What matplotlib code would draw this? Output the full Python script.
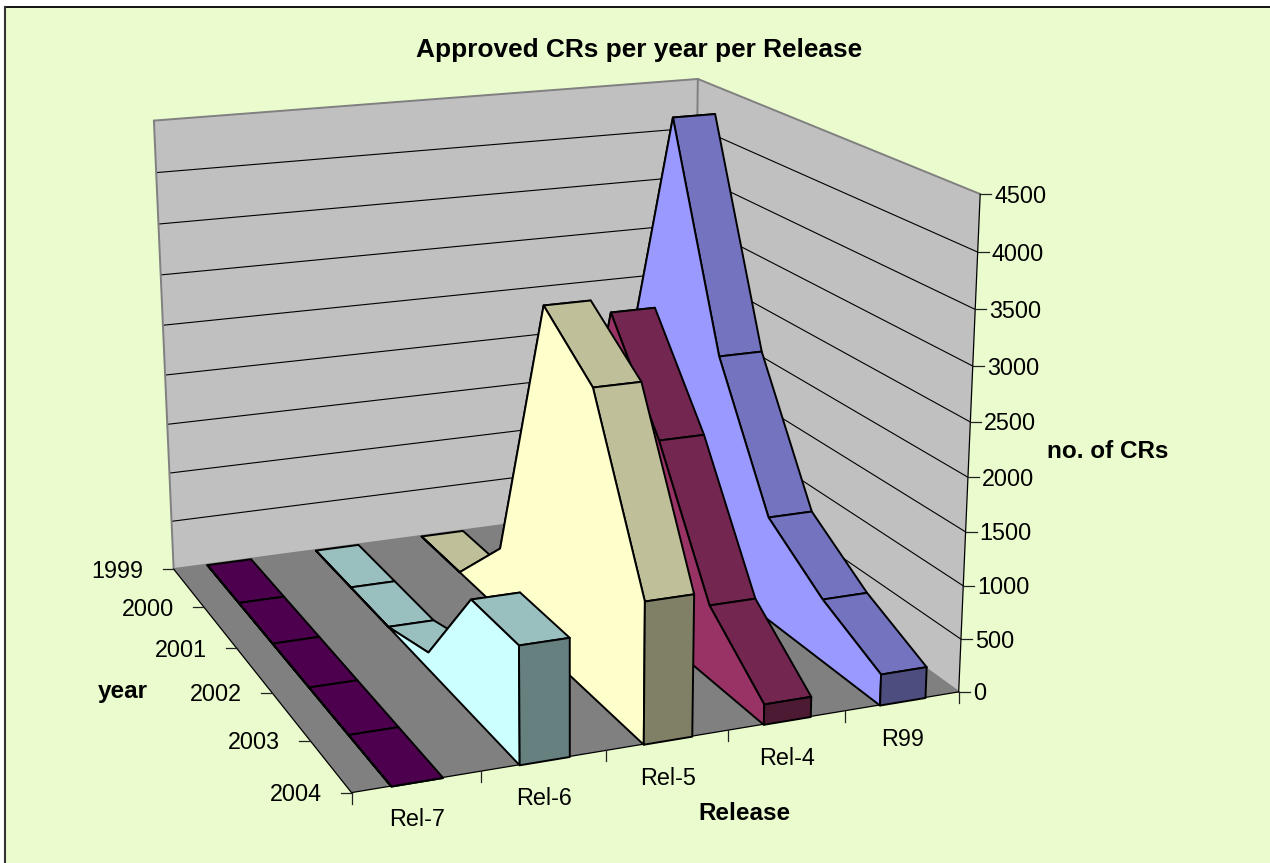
import numpy as np
import matplotlib
matplotlib.use("Agg")
import matplotlib.pyplot as plt
from matplotlib.lines import Line2D
from matplotlib.patches import Rectangle
from mpl_toolkits.mplot3d import proj3d
from mpl_toolkits.mplot3d.art3d import Poly3DCollection, Line3DCollection

plt.rcParams['font.family'] = ['Liberation Sans', 'DejaVu Sans']

# ---- data ----
releases = ['Rel-7', 'Rel-6', 'Rel-5', 'Rel-4', 'R99']
years = ['1999', '2000', '2001', '2002', '2003', '2004']
rel7 = [0, 0, 0, 0, 0, 0]
rel6 = [0, 0, 0, 164, 1074, 1071]
rel5 = [0, 0, 627, 3284, 2842, 1295]
rel4 = [0, 50, 2821, 1898, 695, 189]
r99 = [1475, 4378, 2271, 1008, 590, 292]
z_ticks = [0, 500, 1000, 1500, 2000, 2500, 3000, 3500, 4000, 4500]
title = 'Approved CRs per year per Release'

# ---- styles ----
BG = '#EAFBCE'
WALL = '#C0C0C0'
FLOOR = '#808080'
side_colors = ['#660066', '#CCFFFF', '#FFFFCC', '#993366', '#9999FF']
top_colors = ['#4D004D', '#99BFBF', '#BFBF99', '#732650', '#7373BF']
front_colors = ['#330033', '#668080', '#808066', '#4D1A33', '#4D4D80']
RIBBON = (0.3, 0.7)
W_PX, H_PX = 1270, 863

# perspective camera of the chart (x: release slot, y: year index, z: thousands of CRs)
CAMERA = np.array([[113.5117842, 23.1530608, -5.9969364, 173.6333044],
                   [19.0014877, -47.1983783, 91.8813688, 293.9433327],
                   [0.0141194, -0.0353416, -0.0104767, 1.0]])
M = np.vstack([CAMERA[0], CAMERA[1], [0, 0, 1, 0], CAMERA[2]]) @ np.diag([1, 1, 1e-3, 1])

fig = plt.figure(figsize=(W_PX / 100, H_PX / 100), dpi=100, facecolor='white')
fig.patches.append(Rectangle((5 / W_PX, 0), 1, 1 - 8 / H_PX, transform=fig.transFigure,
                             facecolor=BG, edgecolor='none', zorder=-5))
fig.add_artist(Line2D([5 / W_PX, 1], [1 - 7.5 / H_PX] * 2, color='black', lw=1.3))
fig.add_artist(Line2D([4.8 / W_PX] * 2, [0, 1 - 7 / H_PX], color='#333333', lw=1.5))

ax = fig.add_axes([0, 0, 1, 1], projection='3d')
ax.set_autoscale_on(False)
ax.computed_zorder = False
ax.set_axis_off()
ax.patch.set_visible(False)
ax.apply_aspect = lambda position=None: None
ax.get_proj = lambda: M

n = 5
zmax = z_ticks[-1]
zo = [10]


def poly(verts, fc, ec='none', lw=0.0):
    c = Poly3DCollection([verts], facecolors=fc, edgecolors=ec, linewidths=lw, joinstyle='round')
    zo[0] += 1
    c.set_zorder(zo[0])
    ax.add_collection3d(c)


def lines3d(segs, color, lw):
    c = Line3DCollection(segs, colors=color, linewidths=lw, capstyle='round')
    zo[0] += 1
    c.set_zorder(zo[0])
    ax.add_collection3d(c)


# walls and floor
poly([(0, 0, 0), (n, 0, 0), (n, 0, zmax), (0, 0, zmax)], WALL)
poly([(n, 0, 0), (n, n, 0), (n, n, zmax), (n, 0, zmax)], WALL)
poly([(0, 0, 0), (n, 0, 0), (n, n, 0), (0, n, 0)], FLOOR)
lines3d([[(0, 0, z), (n, 0, z)] for z in z_ticks[1:-1]] + [[(n, 0, z), (n, n, z)] for z in z_ticks[1:-1]],
        'black', 0.8)
lines3d([[(0, 0, zmax), (n, 0, zmax)], [(n, 0, zmax), (n, n, zmax)],
         [(0, 0, 0), (0, 0, zmax)], [(n, 0, 0), (n, 0, zmax)],
         [(0, 0, 0), (n, 0, 0)], [(n, 0, 0), (n, n, 0)]], '#808080', 1.4)
lines3d([[(0, n, 0), (n, n, 0)], [(0, 0, 0), (0, n, 0)], [(n, n, 0), (n, n, zmax)]], 'black', 0.9)


def px(x, y, z):
    u, v, _ = proj3d.proj_transform(x, y, z, M)
    return float(u), float(v)


def tick(x, y, z, dx, dy):
    u, v = px(x, y, z)
    ax.add_artist(Line2D([u, u + dx], [v, v + dy], color='#222222', lw=0.9, zorder=18))


# ribbons, back (R99) to front (Rel-7)
series = [rel7, rel6, rel5, rel4, r99]
for i in range(n - 1, -1, -1):
    vals = series[i]
    x0, x1 = i + RIBBON[0], i + RIBBON[1]
    for k in range(n):
        poly([(x0, k, vals[k]), (x1, k, vals[k]), (x1, k + 1, vals[k + 1]), (x0, k + 1, vals[k + 1])],
             top_colors[i], 'black', 1.4)
    side = [(x0, 0, 0)] + [(x0, k, v) for k, v in enumerate(vals)] + [(x0, n, 0)]
    poly(side, side_colors[i], 'black', 1.4)
    poly([(x0, n, 0), (x1, n, 0), (x1, n, vals[n]), (x0, n, vals[n])], front_colors[i], 'black', 1.4)

# ticks and tick labels
TICK_FS = 16.8
for z in z_ticks:
    tick(n, n, z, 11, 0)
    u, v = px(n, n, z)
    ax.annotate(str(z), (u, v), xytext=(14, -2), textcoords='offset pixels', ha='left', va='center',
                fontsize=TICK_FS, color='black', zorder=200)
for k, lab in enumerate(years):
    tick(0, k, 0, -11, 0)
    u, v = px(0, k, 0)
    ax.annotate(lab, (u, v), xytext=(-30, -2), textcoords='offset pixels', ha='right', va='center',
                fontsize=TICK_FS, color='black', zorder=200)
for i in range(n + 1):
    tick(i, n, 0, 0, -11)
for i, lab in enumerate(releases):
    u, v = px(i + 0.5, n, 0)
    ax.annotate(lab, (u, v), xytext=(0, -38), textcoords='offset pixels', ha='center', va='center',
                fontsize=TICK_FS, color='black', zorder=200)

ax.viewLim.intervalx = (0, W_PX)
ax.viewLim.intervaly = (0, H_PX)

# titles
fig.text(639 / W_PX, 1 - 50 / H_PX, title, ha='center', va='center', fontsize=18.9, fontweight='bold')
fig.text(1108 / W_PX, 1 - 451 / H_PX, 'no. of CRs', ha='center', va='center', fontsize=17.5, fontweight='bold')
fig.text(123 / W_PX, 1 - 691 / H_PX, 'year', ha='center', va='center', fontsize=17.5, fontweight='bold')
fig.text(744 / W_PX, 1 - 813 / H_PX, 'Release', ha='center', va='center', fontsize=17.5, fontweight='bold')

fig.savefig('out.png', dpi=100, facecolor='white')
